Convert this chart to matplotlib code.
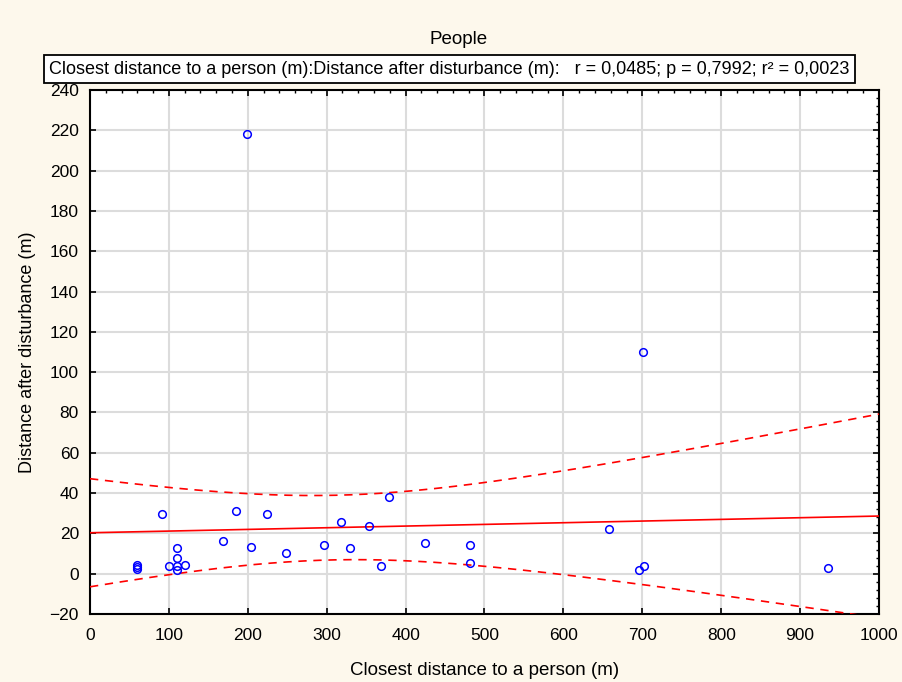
import numpy as np
import matplotlib
matplotlib.use("Agg")
import matplotlib.pyplot as plt
from matplotlib.ticker import AutoMinorLocator

plt.rcParams['font.family'] = ['Liberation Sans', 'DejaVu Sans']

# data
closest_dist = [199, 701, 91, 185, 224, 169, 204, 248, 296, 318, 329, 354, 369, 379,
                424, 481, 481, 658, 696, 702, 935,
                110, 110, 100, 110, 110, 121,
                60, 60, 60]
dist_after = [218, 110, 29.8, 31.3, 29.8, 16.4, 13.4, 10.1, 14.2, 25.5, 12.6, 23.7, 3.8, 37.9,
              15.4, 14.1, 5.2, 22.2, 1.8, 3.8, 2.8,
              12.6, 7.6, 3.8, 3.8, 1.8, 4.5,
              2.5, 3.5, 4.5]
x_ticks = np.arange(0, 1001, 100)
y_ticks = np.arange(-20, 241, 20)
stats_text = "Closest distance to a person (m):Distance after disturbance (m):   r = 0,0485; p = 0,7992; r\u00b2 = 0,0023"

x = np.array(closest_dist, dtype=float)
y = np.array(dist_after, dtype=float)

# linear fit + 95% confidence band
n = len(x)
b1, b0 = np.polyfit(x, y, 1)
resid = y - (b0 + b1 * x)
s = np.sqrt(np.sum(resid ** 2) / (n - 2))
sxx = np.sum((x - x.mean()) ** 2)
t_crit = 2.048  # t(0.975, df=28)
xg = np.linspace(0, 1000, 400)
yg = b0 + b1 * xg
half = t_crit * s * np.sqrt(1.0 / n + (xg - x.mean()) ** 2 / sxx)

fig = plt.figure(figsize=(9.03, 6.82), dpi=100, facecolor='#fdf8ec')
ax = fig.add_axes([90 / 903, 1 - 614 / 682, (879 - 90) / 903, (614 - 90) / 682])
ax.set_facecolor('white')

ax.plot(xg, yg, color='red', lw=1.2, zorder=3)
ax.plot(xg, yg + half, color='red', lw=1.2, ls=(0, (5, 4)), zorder=3)
ax.plot(xg, yg - half, color='red', lw=1.2, ls=(0, (5, 4)), zorder=3)
ax.plot(x, y, 'o', ms=5.5, mfc='none', mec='blue', mew=1.1, zorder=4, clip_on=False)

ax.set_xlim(0, 1000)
ax.set_ylim(-20, 240)
ax.set_xticks(x_ticks)
ax.set_yticks(y_ticks)
ax.xaxis.set_minor_locator(AutoMinorLocator(5))
ax.yaxis.set_minor_locator(AutoMinorLocator(5))
ax.tick_params(which='major', direction='in', length=4, width=1.2,
               top=True, right=True, labelsize=12.5)
ax.tick_params(axis='x', pad=10)
ax.tick_params(axis='y', pad=8)
ax.tick_params(which='minor', direction='in', length=2.5, width=1,
               top=True, right=True, bottom=False, left=False)
ax.grid(True, color='#dcdcdc', lw=1.5)
ax.set_axisbelow(True)
for sp in ax.spines.values():
    sp.set_linewidth(1.5)

ax.set_xlabel('Closest distance to a person (m)', fontsize=13.5, labelpad=14)
ax.set_ylabel('Distance after disturbance (m)', fontsize=13, labelpad=10)

fig.text(459 / 903, 1 - 40 / 682, 'People', ha='center', va='center', fontsize=13.5)
fig.text(449.5 / 903, 1 - 69 / 682, stats_text, ha='center', va='center', fontsize=13,
         bbox=dict(boxstyle='square,pad=0.3', fc='white', ec='black', lw=1.3))

fig.savefig('out.png', dpi=100, facecolor=fig.get_facecolor())
